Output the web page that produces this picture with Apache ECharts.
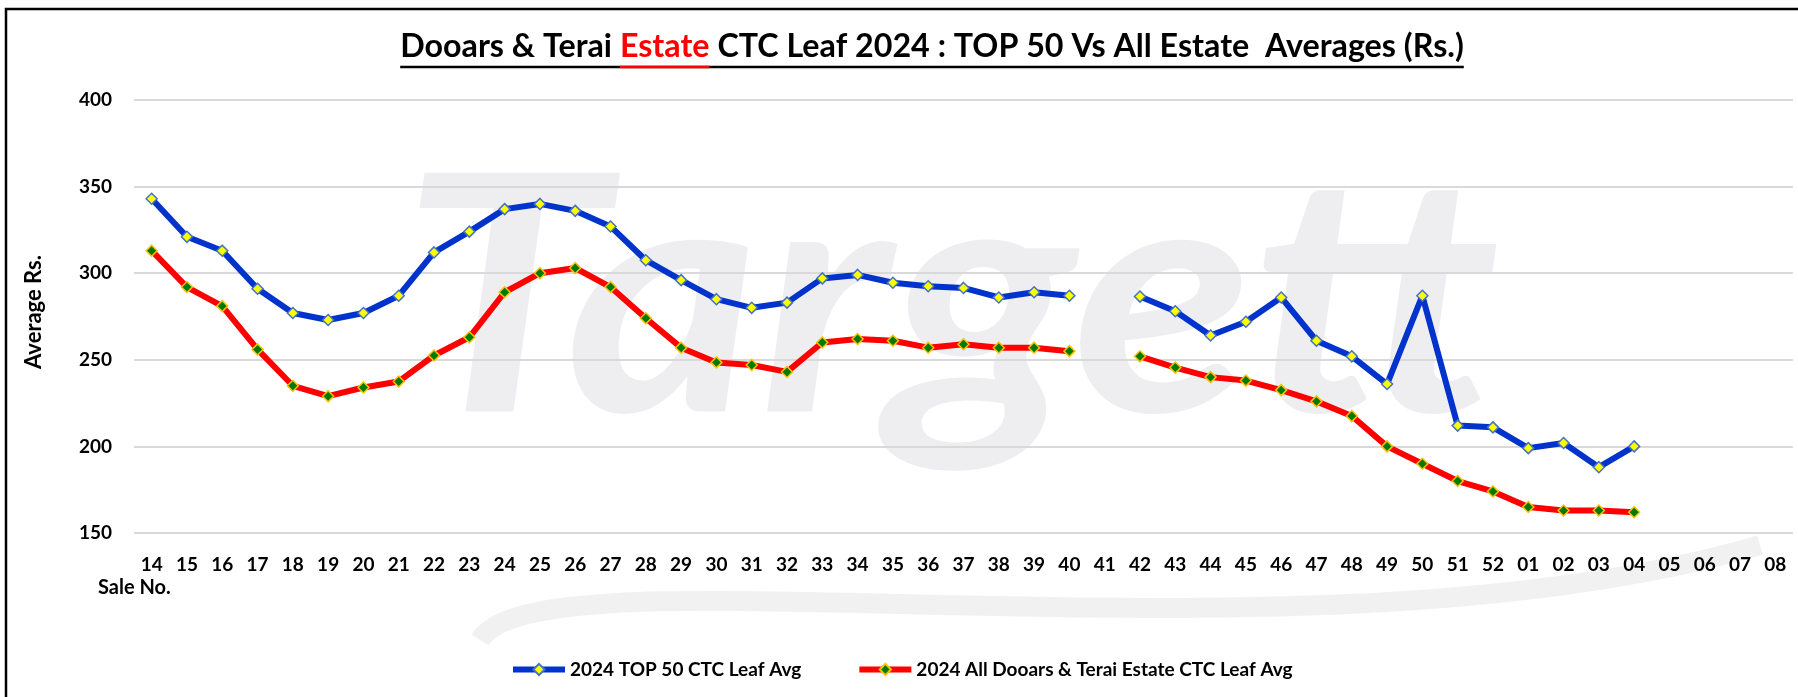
<!DOCTYPE html>
<html>
<head>
<meta charset="utf-8">
<script src="https://cdn.jsdelivr.net/npm/echarts@6/dist/echarts.min.js"></script>
<style>
  html, body { margin: 0; padding: 0; background: #fff; }
  #chart { width: 1798px; height: 697px; }
</style>
</head>
<body>
<div id="chart"></div>
<script>
const categories = ['14','15','16','17','18','19','20','21','22','23','24','25','26','27','28','29','30','31','32','33','34','35','36','37','38','39','40','41','42','43','44','45','46','47','48','49','50','51','52','01','02','03','04','05','06','07','08'];
const top50Avg = [343,321,313,291,277,273,277,287,312,324,337,340,336,327,307.5,296,285,280,283,297,299,294.5,292.5,291.5,286,289,287,null,286.5,278,264,272,286,261,252,236,287,212,211,199,202,188,200,null,null,null,null];
const allEstateAvg = [313,292,281,256,235,229,234,237.5,252.5,263,289,300,303,292,274,257,248.5,247,243,260,262,261,257,259,257,257,255,null,252,245.5,240,238,232.5,226,217.5,200,190,180,174,165,163,163,162,null,null,null,null];
const seriesNames = ['2024 TOP 50 CTC Leaf Avg', '2024 All Dooars & Terai Estate CTC Leaf Avg'];
const yTicks = { min: 150, max: 400, interval: 50 };
const titleParts = ['Dooars & Terai ', 'Estate', ' CTC Leaf 2024 : TOP 50 Vs All Estate  Averages (Rs.)'];

const cv = document.createElement('canvas').getContext('2d');
function w(font, s) { cv.font = font; return cv.measureText(s).width; }
function has(fam) {
  const s = 'mmmmmmwwwwiiiilll0123';
  return w("bold 40px '" + fam + "', monospace", s) !== w('bold 40px monospace', s);
}
const FAM = has('Liberation Sans Narrow') ? "'Liberation Sans Narrow'" : 'Lato';
const WT = 'bold';

const fullTitle = titleParts.join('');
let tSize = 32;
const tw0 = w(WT + ' ' + tSize + 'px ' + FAM, fullTitle);
tSize = Math.max(22, Math.min(36, tSize * 1064 / tw0));
const tFont = WT + ' ' + tSize + 'px ' + FAM;
const widths = titleParts.map(p => w(tFont, p));
const totalW = widths.reduce((a, b) => a + b, 0);
const tX0 = 932 - totalW / 2;
const tY = 51;
const titleGraphics = [];
let cx = tX0;
titleParts.forEach((p, i) => {
  titleGraphics.push({
    type: 'text', left: cx, top: tY - tSize * 0.62, z: 10,
    style: { text: p, font: tFont, fill: i === 1 ? '#FF0000' : '#000000' }
  });
  cx += widths[i];
});
titleGraphics.push({ type: 'line', z: 10, shape: { x1: tX0, y1: 67, x2: tX0 + totalW, y2: 67 }, style: { stroke: '#000', lineWidth: 2.5 } });
titleGraphics.push({ type: 'line', z: 11, shape: { x1: tX0 + widths[0], y1: 67, x2: tX0 + widths[0] + widths[1], y2: 67 }, style: { stroke: '#FF0000', lineWidth: 2.5 } });

const wmFont = 'bold italic 330px ' + FAM;
const wmW = w(wmFont, 'Targett');

const chart = echarts.init(document.getElementById('chart'), null, { renderer: 'canvas' });
chart.setOption({
  backgroundColor: '#ffffff',
  animation: false,
  grid: { left: 134, right: 5, top: 100, bottom: 164, containLabel: false },
  legend: {
    left: 505, top: 655,
    itemWidth: 52, itemHeight: 14, itemGap: 55,
    lineStyle: { width: 6 },
    textStyle: { fontFamily: FAM, fontWeight: WT, fontSize: 19, color: '#000' },
    data: seriesNames
  },
  xAxis: {
    type: 'category',
    data: categories,
    boundaryGap: true,
    axisLine: { show: false },
    axisTick: { show: false },
    axisLabel: { interval: 0, margin: 22, fontFamily: FAM, fontWeight: WT, fontSize: 19, color: '#000' },
    splitLine: { show: false }
  },
  yAxis: {
    type: 'value',
    min: yTicks.min, max: yTicks.max, interval: yTicks.interval,
    axisLine: { show: false },
    axisTick: { show: false },
    axisLabel: { margin: 22, fontFamily: FAM, fontWeight: WT, fontSize: 19, color: '#000' },
    splitLine: { lineStyle: { color: '#D9D9D9', width: 2 } }
  },
  graphic: [
    { type: 'rect', z: -5, shape: { x: 6, y: 9, width: 1800, height: 700 }, style: { fill: 'none', stroke: '#000', lineWidth: 2.5 } },
    { type: 'text', z: -5, left: 400, top: 140, scaleX: 1100 / wmW,
      style: { text: 'Targett', font: wmFont, fill: 'rgba(200,200,210,0.3)' } },
    { type: 'bezierCurve', z: -5, shape: { x1: 480, y1: 640, x2: 1760, y2: 545, cpx1: 540, cpy1: 540, cpx2: 1300, cpy2: 680 },
      style: { stroke: 'rgba(200,200,205,0.25)', lineWidth: 20, fill: 'none' } },
    { type: 'text', z: 10, left: 98, top: 578, style: { text: 'Sale No.', font: WT + ' 20px ' + FAM, fill: '#000' } },
    { type: 'text', z: 10, x: 34, y: 312, rotation: Math.PI / 2,
      style: { text: 'Average Rs.', font: WT + ' 22px ' + FAM, fill: '#000', align: 'center', verticalAlign: 'middle' } },
    ...titleGraphics
  ],
  series: [
    {
      name: seriesNames[0], type: 'line', data: top50Avg, connectNulls: false,
      lineStyle: { color: '#0033CC', width: 6 },
      itemStyle: { color: '#FFFF00', borderColor: '#4472C4', borderWidth: 1.5 },
      symbol: 'diamond', symbolSize: 11, showAllSymbol: true, z: 3
    },
    {
      name: seriesNames[1], type: 'line', data: allEstateAvg, connectNulls: false,
      lineStyle: { color: '#FF0000', width: 6 },
      itemStyle: { color: '#007A00', borderColor: '#FFC000', borderWidth: 1.5 },
      symbol: 'diamond', symbolSize: 11, showAllSymbol: true, z: 2
    }
  ]
});
</script>
</body>
</html>
